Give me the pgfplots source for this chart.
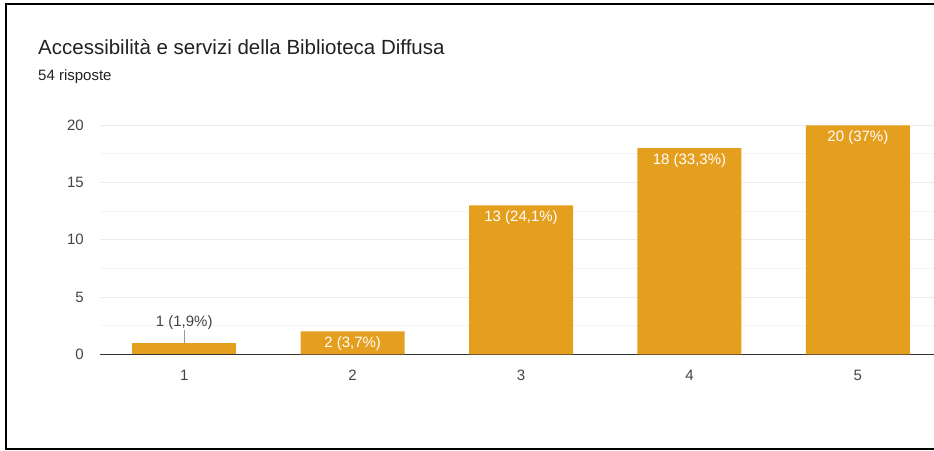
\documentclass[border=0pt]{standalone}
\usepackage{fontspec}
\setmainfont{Liberation Sans}
\usepackage{pgfplots}
\pgfplotsset{compat=1.18}

\definecolor{barorange}{RGB}{229,159,31}
\definecolor{titlecol}{RGB}{33,33,33}
\definecolor{tickcol}{RGB}{68,68,68}
\definecolor{gridmaj}{RGB}{235,235,235}
\definecolor{gridmin}{RGB}{244,244,244}
\definecolor{axiscol}{RGB}{51,51,51}
\definecolor{leadcol}{RGB}{153,153,153}

\begin{document}
\begin{tikzpicture}
  \path[use as bounding box] (0pt,0pt) rectangle (934pt,450pt);
  % card frame (open on the right)
  \draw[line width=2pt, black] (934pt,446.3pt) -- (6.2pt,446.3pt) -- (6.2pt,1pt) -- (934pt,1pt);

  % headings
  \node[anchor=base west, inner sep=0pt, text=titlecol,
        font=\fontsize{20.5}{24}\selectfont] at (38pt,395pt)
        {Accessibilità e servizi della Biblioteca Diffusa};
  \node[anchor=base west, inner sep=0pt, text=titlecol,
        font=\fontsize{15}{18}\selectfont] at (38pt,369.5pt) {54 risposte};

  \begin{axis}[
      at={(100pt,95.7pt)}, anchor=south west,
      scale only axis, width=834pt, height=229pt,
      xmin=0.5, xmax=5.452, ymin=0, ymax=20,
      xtick={1,2,3,4,5}, ytick={0,5,10,15,20},
      minor y tick num=1,
      ymajorgrids, yminorgrids,
      major grid style={draw=gridmaj, line width=1pt},
      minor grid style={draw=gridmin, line width=1pt},
      axis x line*=bottom, axis y line*=left,
      x axis line style={draw=axiscol, line width=1.3pt},
      y axis line style={draw=none},
      tick style={draw=none},
      /pgf/number format/assume math mode=true,
      ticklabel style={font=\fontsize{15}{18}\selectfont, text=tickcol},
      yticklabel style={anchor=east, inner sep=0pt, xshift=-16pt},
      xticklabel style={anchor=north, inner sep=0pt, yshift=-11pt},
      ybar, bar width=104pt, bar shift=0pt,
      point meta=explicit symbolic,
      nodes near coords,
      every node near coord/.append style={font=\fontsize{15}{18}\selectfont},
    ]
    % bars 2-5 with their labels inside the top of the bar
    \addplot[fill=barorange, draw=none,
      every node near coord/.append style={anchor=base, yshift=-16.3pt, text=white}]
      coordinates {
        (2,2)  [2 (3,7\%)]
        (3,13) [13 (24,1\%)]
        (4,18) [18 (33,3\%)]
        (5,20) [20 (37\%)]
      };
    % bar 1, too short for an inside label: label above with a leader
    \addplot[fill=barorange, draw=none,
      every node near coord/.append style={anchor=base, yshift=16.2pt, text=tickcol}]
      coordinates {
        (1,1) [1 (1,9\%)]
      };
    \draw[leadcol, line width=0.8pt] (axis cs:1,1) -- ([yshift=13pt]axis cs:1,1);
  \end{axis}
\end{tikzpicture}
\end{document}
